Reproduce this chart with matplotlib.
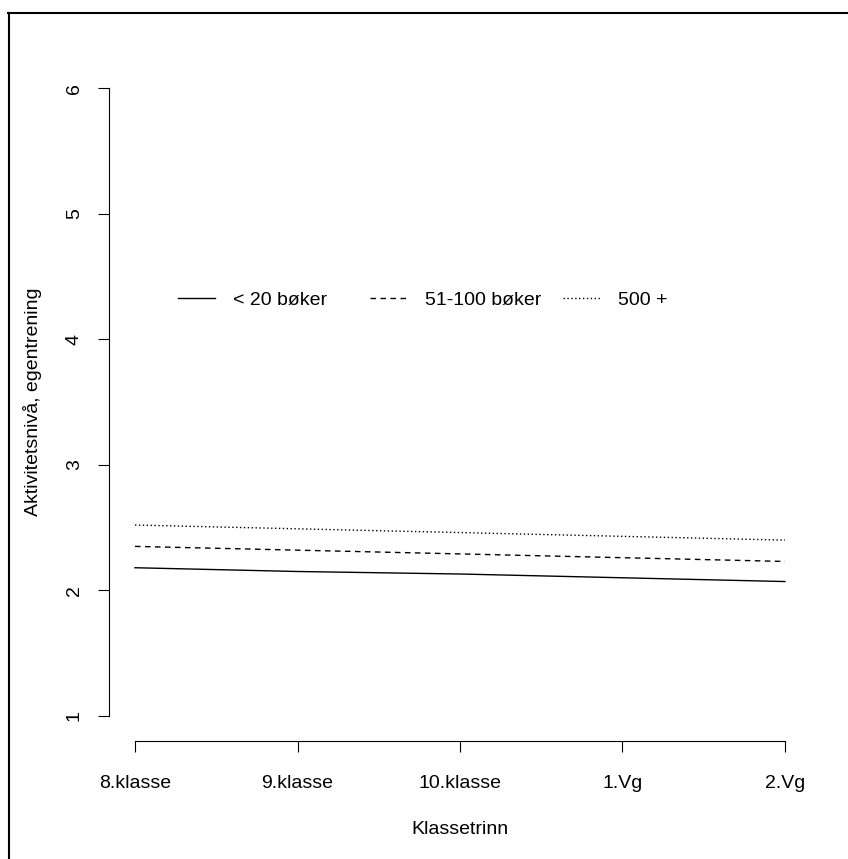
import matplotlib
matplotlib.use("Agg")
import matplotlib.pyplot as plt
from matplotlib.lines import Line2D

plt.rcParams['font.family'] = ['Liberation Sans', 'DejaVu Sans']
plt.rcParams['lines.scale_dashes'] = False

categories = ["8.klasse", "9.klasse", "10.klasse", "1.Vg", "2.Vg"]
series_names = ["< 20 bøker", "51-100 bøker", "500 +"]
under_20 = [2.18, 2.15, 2.13, 2.10, 2.07]
b51_100 = [2.35, 2.32, 2.29, 2.26, 2.23]
over_500 = [2.52, 2.49, 2.46, 2.43, 2.40]
y_ticks = [1, 2, 3, 4, 5, 6]

W, H = 848, 859
fig = plt.figure(figsize=(W / 100, H / 100), dpi=100)
ax = fig.add_axes([109 / W, 1 - 741 / H, 702 / W, 678 / H])

x = list(range(1, len(categories) + 1))
lw = 1.0
styles = ['-', (0, (4.0, 3.2)), (0, (1.0, 1.8))]
lines = []
for vals, name, ls in zip([under_20, b51_100, over_500], series_names, styles):
    ln, = ax.plot(x, vals, color='black', lw=lw, linestyle=ls, label=name)
    lines.append(ln)

ax.set_xlim(0.84, 5.16)
ax.set_ylim(0.8, 6.2)
ax.set_xticks(x)
ax.set_xticklabels(categories)
ax.set_yticks(y_ticks)
ax.set_yticklabels([str(v) for v in y_ticks])

for s in ['top', 'right']:
    ax.spines[s].set_visible(False)
ax.spines['left'].set_bounds(1, 6)
ax.spines['bottom'].set_bounds(1, 5)
for s in ['left', 'bottom']:
    ax.spines[s].set_linewidth(0.8)

ax.tick_params(axis='both', direction='out', length=7.9, width=0.8, labelsize=14, color='black')
ax.tick_params(axis='x', pad=16.5)
ax.tick_params(axis='y', pad=11, labelrotation=90)
for lab in ax.get_yticklabels():
    lab.set_verticalalignment('center')

fig.text(460 / W, 1 - 830 / H, "Klassetrinn", ha='center', va='center', fontsize=14)
fig.text(33 / W, 1 - 402 / H, "Aktivitetsnivå, egentrening", ha='center', va='center',
         rotation=90, fontsize=14)

# horizontal legend without box, one entry per column (R-like spacing)
legend_x = [178, 370, 563]
for ln, lx in zip(lines, legend_x):
    leg = fig.legend([ln], [ln.get_label()], loc='center left',
                     bbox_to_anchor=(lx / W, 1 - 300 / H), frameon=False, fontsize=14,
                     handlelength=1.9, handletextpad=0.93, borderpad=0, borderaxespad=0)

# outer frame lines (left and top only)
fig.add_artist(Line2D([8.5 / W, 8.5 / W], [0, 1 - 12.5 / H], transform=fig.transFigure,
                      color='black', lw=1.5))
fig.add_artist(Line2D([8 / W, 1], [1 - 12.5 / H, 1 - 12.5 / H], transform=fig.transFigure,
                      color='black', lw=1.5))

fig.savefig("out.png", dpi=100)
